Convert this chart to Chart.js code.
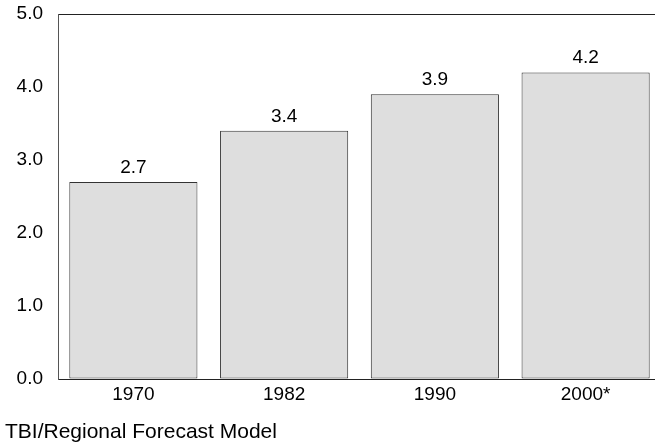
<!DOCTYPE html>
<html>
<head>
<meta charset="utf-8">
<script src="https://cdn.jsdelivr.net/npm/chart.js@4/dist/chart.umd.min.js"></script>
<style>
html,body{margin:0;padding:0;background:#fff;overflow:hidden;width:655px;height:445px;}
canvas{display:block;}
</style>
</head>
<body>
<canvas id="c" width="661" height="445"></canvas>
<script>
const categories = ["1970", "1982", "1990", "2000*"];
const values = [2.7, 3.4, 3.9, 4.2];
const valueLabels = ["2.7", "3.4", "3.9", "4.2"];
const yTicks = [0, 1, 2, 3, 4, 5];
const footer = "TBI/Regional Forecast Model";

const FONT = "'Liberation Sans', Arial, sans-serif";

const valueLabelPlugin = {
  id: 'valueLabels',
  afterDatasetsDraw(chart) {
    const ctx = chart.ctx;
    const meta = chart.getDatasetMeta(0);
    ctx.save();
    ctx.font = "19px " + FONT;
    ctx.fillStyle = "#000";
    ctx.textAlign = "center";
    ctx.textBaseline = "bottom";
    meta.data.forEach((bar, i) => {
      ctx.fillText(valueLabels[i], bar.x, bar.y - 5);
    });
    ctx.restore();
  }
};

new Chart(document.getElementById('c'), {
  type: 'bar',
  data: {
    labels: categories,
    datasets: [{
      data: values,
      backgroundColor: '#dedede',
      borderColor: '#333',
      borderWidth: 1,
      borderSkipped: false,
      categoryPercentage: 0.85,
      barPercentage: 1.0
    }]
  },
  options: {
    responsive: false,
    animation: false,
    devicePixelRatio: 1,
    layout: { padding: { left: 5, right: 0, top: 14, bottom: 0 } },
    plugins: {
      legend: { display: false },
      tooltip: { enabled: false },
      title: {
        display: true,
        text: footer,
        position: 'bottom',
        align: 'start',
        color: '#000',
        font: { family: FONT, size: 21, weight: 'normal' },
        padding: { top: 10, bottom: 0 }
      }
    },
    scales: {
      x: {
        grid: { display: false, drawTicks: false },
        border: { display: true, color: '#222', width: 1 },
        ticks: { color: '#000', font: { family: FONT, size: 19 }, padding: 4 }
      },
      y: {
        min: 0, max: 5,
        afterBuildTicks(scale) { scale.ticks = yTicks.map(v => ({ value: v })); },
        afterFit(scale) { scale.width = 53; scale.paddingTop = 0; scale.paddingBottom = 0; },
        grid: {
          drawTicks: false,
          color: (c) => (c.tick && c.tick.value === 5) ? '#222' : 'rgba(0,0,0,0)',
          lineWidth: 1
        },
        border: { display: true, color: '#555', width: 1 },
        ticks: {
          color: '#000',
          font: { family: FONT, size: 19 },
          padding: 15,
          callback: (v) => Number(v).toFixed(1)
        }
      }
    }
  },
  plugins: [valueLabelPlugin]
});
</script>
</body>
</html>
